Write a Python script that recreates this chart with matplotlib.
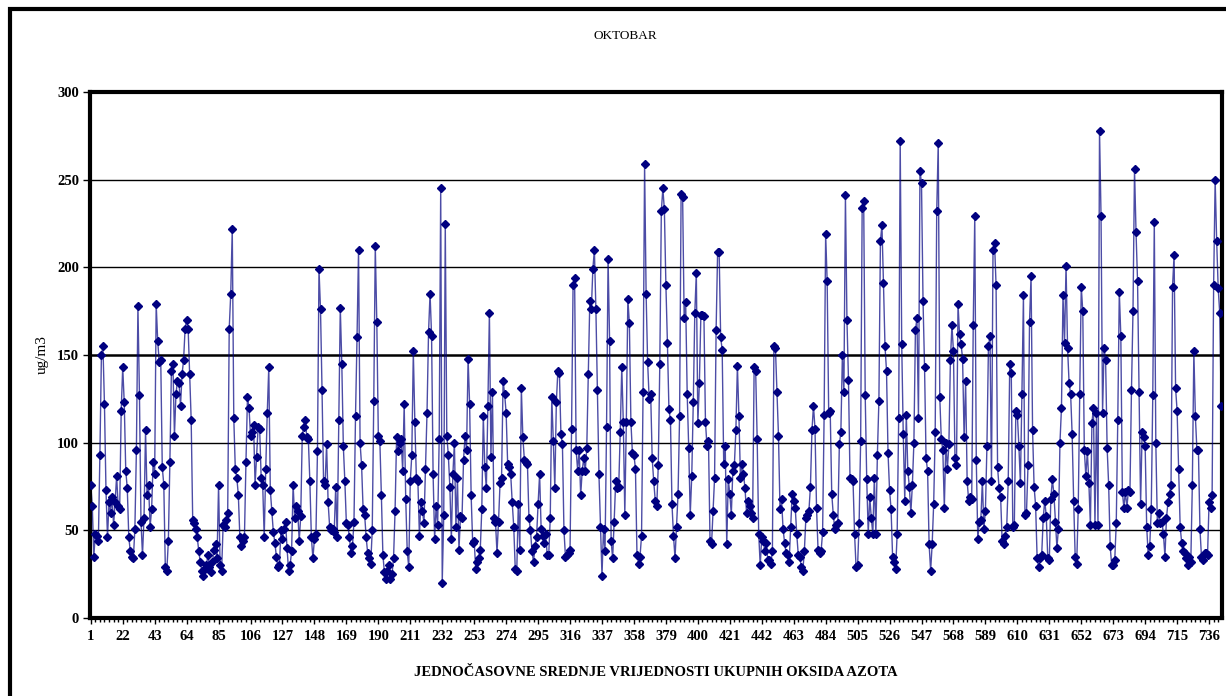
import matplotlib
matplotlib.use("Agg")
import matplotlib.pyplot as plt
from matplotlib.patches import Rectangle
import numpy as np

# hourly NOx means for October (744 hours)
nox = [
    76, 64, 35, 48, 47, 44, 93, 150, 155, 122, 73, 46, 66, 60, 69, 53, 66, 81, 64, 62,
    118, 143, 123, 84, 74, 46, 38, 35, 34, 51, 96, 178, 127, 55, 36, 57, 107, 70, 76, 52,
    62, 89, 82, 179, 158, 146, 147, 86, 76, 29, 27, 44, 89, 141, 145, 104, 128, 135, 134, 121,
    139, 147, 165, 170,
    165, 139, 113, 56, 54, 51, 46, 38, 32, 27, 24, 28, 30, 36, 29, 26, 32, 39, 42, 34,
    76, 30, 27, 53, 52, 56, 60, 165, 185, 222, 114, 85, 80, 70, 46, 41, 44, 46, 89, 126,
    120, 104, 106, 110, 76, 92, 109, 108, 80, 76, 46, 85, 117, 143, 73, 61, 49, 43, 35, 29,
    30, 50,
    45, 51, 55, 40, 27, 30, 38, 76, 57, 64, 61, 44, 58, 104, 109, 113, 103, 102, 78, 46,
    34, 45, 48, 95, 199, 176, 130, 78, 76, 99, 66, 52, 50, 51, 49, 75, 46, 113, 177, 145,
    98, 78, 54, 53, 46, 37, 41, 55, 115, 160, 210, 100, 87, 62, 59, 46, 37, 34, 31, 50,
    124, 212, 169,
    104, 101, 70, 36, 26, 22, 27, 30, 22, 25, 34, 61, 103, 95, 100, 102, 84, 122, 68, 38,
    29, 78, 93, 152, 112, 80, 78, 47, 66, 61, 54, 85, 117, 163, 185, 161, 82, 45, 64, 53,
    102, 245, 20, 59, 225, 104, 93, 75, 45, 82, 100, 52, 80, 39, 58, 57, 90, 104, 96, 148,
    122, 70,
    43, 44, 28, 32, 34, 39, 62, 115, 86, 74, 121, 174, 92, 129, 57, 55, 37, 55, 77, 80,
    135, 128, 117, 88, 86, 82, 66, 52, 28, 27, 65, 39, 131, 103, 90, 89, 88, 57, 50, 38,
    32, 41, 46, 65, 82, 51, 47, 43, 48, 36, 36, 57, 126, 101, 74, 123, 141, 140, 105, 99,
    50, 35,
    36, 37, 39, 108, 190, 194, 96, 84, 96, 70, 84, 91, 84, 97, 139, 181, 176, 199, 210, 176,
    130, 82, 52, 24, 51, 38, 109, 205, 158, 44, 34, 55, 78, 74, 75, 106, 143, 112, 59, 112,
    182, 168, 112, 94, 93, 85, 36, 31, 35, 47, 129, 259, 185, 146, 125, 128, 91, 78, 67, 64,
    87, 145,
    232, 245, 233, 190, 157, 119, 113, 65, 47, 34, 52, 71, 115, 242, 240, 171, 180, 128, 97, 59,
    81, 123, 174, 197, 111, 134, 173, 173, 172, 112, 98, 101, 44, 42, 61, 80, 164, 209, 209, 160,
    153, 88, 98, 42, 79, 71, 59, 84, 87, 107, 144, 115, 80, 88, 82, 74, 60, 67, 64, 60,
    57, 143,
    141, 102, 48, 30, 46, 44, 38, 43, 33, 33, 31, 38, 155, 154, 129, 104, 62, 68, 51, 43,
    37, 36, 32, 52, 71, 67, 63, 48, 36, 35, 29, 27, 38, 57, 59, 61, 75, 107, 121, 108,
    63, 39, 37, 38, 49, 116, 219, 192, 117, 118, 71, 59, 51, 53, 54, 99, 106, 150, 129, 241,
    170, 136, 80,
    79, 78, 48, 29, 30, 54, 101, 234, 238, 127, 79, 48, 69, 57, 48, 80, 48, 93, 124, 215,
    224, 191, 155, 141, 94, 73, 62, 35, 32, 28, 48, 114, 272, 156, 105, 67, 116, 84, 75, 60,
    76, 100, 164, 171, 114, 255, 248, 181, 143, 91, 84, 42, 27, 42, 65, 106, 232, 271, 126, 102,
    96, 63,
    100, 85, 99, 147, 167, 152, 91, 87, 179, 162, 156, 148, 103, 135, 78, 67, 69, 68, 167, 229,
    90, 45, 55, 56, 78, 51, 61, 98, 155, 161, 78, 210, 214, 190, 86, 74, 69, 44, 42, 47,
    52, 78, 145, 140, 52, 53, 118, 116, 98, 77, 128, 184, 59, 60, 87, 169, 195, 107, 75, 64,
    34, 29,
    34, 36, 57, 67, 58, 34, 33, 68, 79, 71, 55, 40, 51, 100, 120, 184, 157, 201, 154, 134,
    128, 105, 67, 35, 31, 62, 128, 189, 175, 96, 81, 95, 77, 53, 111, 120, 53, 117, 53, 278,
    229, 117, 154, 147, 97, 76, 41, 30, 30, 33, 54, 113, 186, 161, 72, 63, 72, 63, 73, 72,
    130, 175,
    256, 220, 192, 129, 65, 106, 103, 98, 52, 36, 41, 62, 127, 226, 100, 54, 60, 54, 55, 48,
    35, 57, 66, 71, 76, 189, 207, 131, 118, 85, 52, 43, 38, 37, 34, 30, 35, 32, 76, 152,
    115, 96, 96, 51, 35, 33, 37, 37, 36, 66, 63, 70, 190, 250, 215, 188, 174, 121,
]

hours = np.arange(1, len(nox) + 1)
x_labels = list(range(1, 737, 21))
y_ticks = [0, 50, 100, 150, 200, 250, 300]

title = "OKTOBAR"
y_title = "ug/m3"
x_title = "JEDNOČASOVNE SREDNJE VRIJEDNOSTI UKUPNIH OKSIDA AZOTA"

navy = "#000080"
serif = ["Liberation Serif", "DejaVu Serif"]

fig = plt.figure(figsize=(12.26, 6.96), dpi=100)
ax = fig.add_axes([90 / 1226, 1 - 618 / 696, 1132 / 1226, 526 / 696])

# gridlines, the 150 one a bit heavier like in the original
for v in y_ticks[1:]:
    ax.axhline(v, color="black", lw=1.8 if v == 150 else 1.0, zorder=1)

ax.plot(hours, nox, color=navy, lw=1.0, alpha=0.7, zorder=2)
ax.plot(hours, nox, ls="none", marker="D", ms=3.6, color=navy, zorder=3)

ax.set_xlim(0.5, len(nox) + 0.5)
ax.set_ylim(0, 300)
ax.set_yticks(y_ticks)
ax.set_yticklabels([str(v) for v in y_ticks], family=serif, fontsize=10.5,
                   fontweight="bold")
ax.set_xticks(x_labels)
ax.set_xticklabels([str(v) for v in x_labels], family=serif, fontsize=10.5,
                   fontweight="bold")
ax.set_xticks(np.arange(1, len(nox) + 1, 3), minor=True)
ax.tick_params(axis="x", which="major", length=4, width=1, pad=5)
ax.tick_params(axis="x", which="minor", length=3, width=1)
ax.tick_params(axis="y", length=5, width=1, pad=3)

for side in ["left", "right", "top", "bottom"]:
    ax.spines[side].set_linewidth(3)
    ax.spines[side].set_color("black")

ax.set_ylabel(y_title, family=serif, fontsize=11, labelpad=6)
ax.set_xlabel(x_title, family=serif, fontsize=10.5, fontweight="bold", labelpad=16)
fig.text(625 / 1226, 1 - 36 / 696, title, family=serif, fontsize=9.5,
         ha="center", va="center")

# outer chart border
fig.patches.append(Rectangle((10 / 1226, -0.05), 1.05, 1 - 9 / 696 + 0.05,
                             transform=fig.transFigure, fill=False,
                             edgecolor="black", lw=3))

fig.savefig("out.png", dpi=100)
